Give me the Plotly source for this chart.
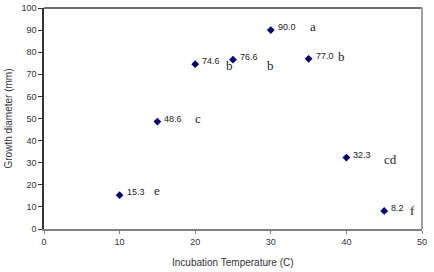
import plotly.graph_objects as go

temperature = [10, 15, 20, 25, 30, 35, 40, 45]
diameter = [15.3, 48.6, 74.6, 76.6, 90.0, 77.0, 32.3, 8.2]
value_labels = ["15.3", "48.6", "74.6", "76.6", "90.0", "77.0", "32.3", "8.2"]

group_letters = ["e", "c", "b", "b", "a", "b", "cd", "f"]
letter_x = [14.9, 20.4, 24.5, 29.9, 35.6, 39.4, 45.8, 48.8]
letter_y = [17.3, 50.0, 74.1, 74.1, 91.8, 78.2, 31.4, 8.2]

x_ticks = [0, 10, 20, 30, 40, 50]
y_ticks = [0, 10, 20, 30, 40, 50, 60, 70, 80, 90, 100]

x_title = "Incubation Temperature (C)"
y_title = "Growth diameter (mm)"

SANS = "Liberation Sans, Arial, sans-serif"
SERIF = "Liberation Serif, Times New Roman, serif"

fig = go.Figure()
fig.add_trace(go.Scatter(
    x=temperature, y=diameter, mode="markers",
    marker=dict(symbol="diamond", size=6, color="#00007a"),
    showlegend=False, hoverinfo="x+y",
))

annotations = []
for xv, yv, lab in zip(temperature, diameter, value_labels):
    annotations.append(dict(
        x=xv, y=yv, xref="x", yref="y", text=lab, showarrow=False,
        xanchor="left", yanchor="middle", xshift=5, yshift=3,
        font=dict(family=SANS, size=9, color="#222222"),
    ))
for xv, yv, lab in zip(letter_x, letter_y, group_letters):
    annotations.append(dict(
        x=xv, y=yv, xref="x", yref="y", text=lab, showarrow=False,
        xanchor="center", yanchor="middle",
        font=dict(family=SERIF, size=13, color="#222222"),
    ))
annotations.append(dict(
    x=0.5, y=0, xref="paper", yref="paper", text=x_title, showarrow=False,
    xanchor="center", yanchor="middle", yshift=-33,
    font=dict(family=SANS, size=10, color="#333333"),
))
annotations.append(dict(
    x=0, y=0.5, xref="paper", yref="paper", text=y_title, showarrow=False,
    xanchor="center", yanchor="middle", xshift=-36, textangle=-90,
    font=dict(family=SANS, size=10, color="#333333"),
))

fig.update_layout(
    width=434, height=272,
    margin=dict(l=44, r=12, t=8, b=43, autoexpand=False),
    paper_bgcolor="white", plot_bgcolor="white",
    annotations=annotations,
    shapes=[
        dict(type="line", xref="paper", yref="paper", x0=0, x1=1, y0=1, y1=1,
             line=dict(color="#404040", width=1.5)),
        dict(type="line", xref="paper", yref="paper", x0=1, x1=1, y0=0, y1=1,
             line=dict(color="#a0a0a0", width=2)),
    ],
    xaxis=dict(
        range=[0, 50], tickvals=x_ticks, ticktext=[str(t) for t in x_ticks],
        showgrid=False, zeroline=False, showline=True, linecolor="#808080", linewidth=1.5,
        ticks="outside", ticklen=3, tickcolor="#808080", automargin=False,
        tickfont=dict(family=SANS, size=9, color="#333333"),
    ),
    yaxis=dict(
        range=[0, 100], tickvals=y_ticks, ticktext=[str(t) for t in y_ticks],
        showgrid=False, zeroline=False, showline=True, linecolor="#333333", linewidth=1.5,
        ticks="outside", ticklen=4, tickcolor="#333333", automargin=False,
        tickfont=dict(family=SANS, size=9, color="#333333"),
    ),
)

fig.write_html("out.html", config={"displayModeBar": False},
               post_script="document.body.style.margin='0';")
